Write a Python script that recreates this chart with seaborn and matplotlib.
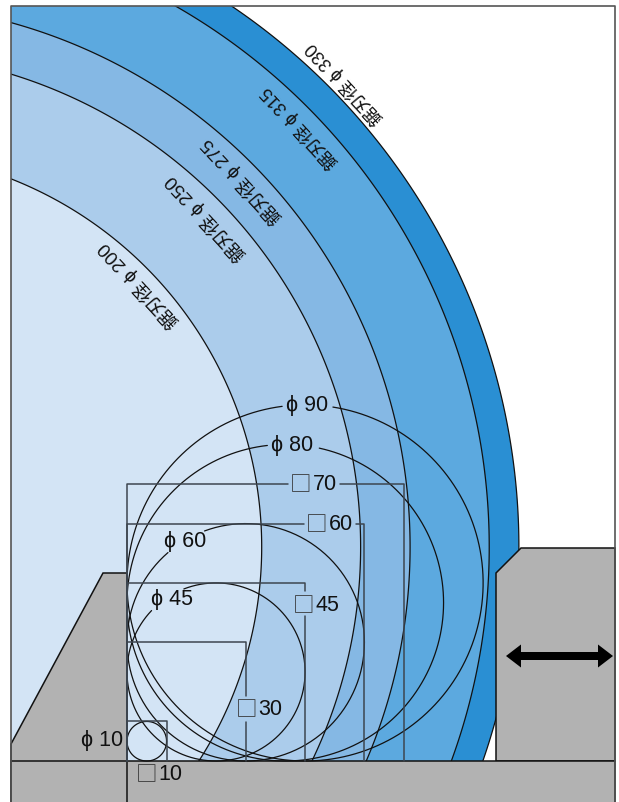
import matplotlib.pyplot as plt
import numpy as np
import seaborn as sns
from matplotlib.patches import Rectangle

# everything is in mm, origin at the inside corner of the fence and the table
PX_PER_MM = 3.957
WIDTH_PX, HEIGHT_PX = 619, 803
CORNER_PX = (127, 762)

blade_diameters = [330, 315, 275, 250, 200]
blade_colors = ["#2A8FD3", "#5CA9DF", "#85B8E4", "#ABCCEB", "#D3E4F5"]
blade_labels = ["鋸刃径 ϕ 330", "鋸刃径 ϕ 315", "鋸刃径 ϕ 275", "鋸刃径 ϕ 250", "鋸刃径 ϕ 200"]
blade_label_px = [(345, 83), (300, 127), (242, 181), (206, 218), (139, 285)]
blade_label_size = [13, 13, 13.5, 13.5, 13.5]
blade_center = (-65.96, 54.08)

round_diameters = [90, 80, 60, 45, 10]
round_labels = ["ϕ 90", "ϕ 80", "ϕ 60", "ϕ 45", "ϕ 10"]
round_label_px = [(307, 406), (292, 446), (185, 542), (172, 600), (102, 741)]
# angles left open for the label, degrees
round_gaps = [(81, 97.4), (77.6, 96.5), (110.3, 130.9), (111.2, 136.4), None]

square_sizes = [70, 60, 45, 30, 10]
square_numbers = ["70", "60", "45", "30", "10"]
square_label_px = [(314, 485), (330, 525), (317, 606), (260, 710), (160, 775)]
# horizontal gap on top edge, vertical gap on right edge (mm along that edge)
square_top_gaps = [(40.7, 53.8), (44.7, 57.9), None, None, None]
square_side_gaps = [None, None, (36.6, 43.0), (9.9, 16.4), None]

grey = "#B2B2B2"
edge = "#111111"
square_color = "#3D4650"


def mm(x_px, y_px):
    return (x_px - CORNER_PX[0]) / PX_PER_MM, (CORNER_PX[1] - y_px) / PX_PER_MM


left_fence = [mm(11, 745), mm(103, 574), mm(127, 574), mm(127, 810), mm(11, 810)]
right_fence = [mm(615, 549), mm(521, 549), mm(496, 574), mm(496, 762), mm(615, 762)]
table = [mm(11, 762), mm(615, 762), mm(615, 810), mm(11, 810)]

sns.set_theme(style="white")
plt.rcParams["font.family"] = ["Liberation Sans", "Noto Sans", "Noto Sans CJK JP", "DejaVu Sans"]

fig = plt.figure(figsize=(WIDTH_PX / 100, HEIGHT_PX / 100), dpi=100)
ax = fig.add_axes([0, 0, 1, 1])
ax.set_xlim(mm(0, 0)[0], mm(WIDTH_PX, 0)[0])
ax.set_ylim(mm(0, HEIGHT_PX)[1], mm(0, 0)[1])
ax.axis("off")

frame_x, frame_y = mm(11, 803)
frame_w = (615 - 11) / PX_PER_MM
frame_h = (803 - 7) / PX_PER_MM
clip = Rectangle((frame_x, frame_y), frame_w, frame_h, transform=ax.transData)

theta = np.radians(np.linspace(0, 360, 721))
for dia, color in zip(blade_diameters, blade_colors):
    xs = blade_center[0] + dia / 2 * np.cos(theta)
    ys = blade_center[1] + dia / 2 * np.sin(theta)
    for patch in ax.fill(xs, ys, facecolor=color, edgecolor=edge, linewidth=0.9):
        patch.set_clip_path(clip)

for outline in (left_fence, right_fence, table):
    ax.fill(*zip(*outline), facecolor=grey, edgecolor=edge, linewidth=1.1, zorder=3)

# fence face continues down through the table
ax.vlines(0, mm(0, 810)[1], 0, color=edge, linewidth=1.1, zorder=4)


def draw_line(xs, ys, color, width):
    sns.lineplot(x=xs, y=ys, ax=ax, sort=False, estimator=None, color=color, linewidth=width, zorder=5)


for dia, gap in zip(round_diameters, round_gaps):
    r = dia / 2
    start, end = (gap[1], gap[0] + 360) if gap else (0, 360)
    t = np.radians(np.linspace(start, end, 361))
    draw_line(r + r * np.cos(t), r + r * np.sin(t), edge, 0.9)

for size, top_gap, side_gap in zip(square_sizes, square_top_gaps, square_side_gaps):
    if top_gap:
        draw_line([0, 0, top_gap[0]], [0, size, size], square_color, 1.1)
        draw_line([top_gap[1], size, size], [size, size, 0], square_color, 1.1)
    elif side_gap:
        draw_line([0, 0, size, size], [0, size, size, side_gap[1]], square_color, 1.1)
        draw_line([size, size], [side_gap[0], 0], square_color, 1.1)
    else:
        draw_line([0, 0, size, size], [0, size, size, 0], square_color, 1.1)

# outer frame
ax.plot(*zip(*[mm(11, 810), mm(11, 7), mm(615, 7), mm(615, 810)]), color="#555555", linewidth=1.2, zorder=6)

for label, pos in zip(round_labels, round_label_px):
    x, y = mm(*pos)
    ax.text(x, y, label, fontsize=15.5, color="#111111", ha="center", va="center", zorder=7)

# square sign and number are separate so the sign can sit level with the digits
for number, pos in zip(square_numbers, square_label_px):
    x, y = mm(pos[0] - 13.5, pos[1])
    ax.text(x, y, "□", fontsize=15.5, color="#333333", ha="center", va="center", zorder=7,
            family=["Noto Sans CJK JP", "DejaVu Sans"])
    x, y = mm(pos[0] + 10.5, pos[1])
    ax.text(x, y, number, fontsize=15.5, color="#111111", ha="center", va="center", zorder=7)

for label, pos, size in zip(blade_labels, blade_label_px, blade_label_size):
    x, y = mm(*pos)
    ax.text(x, y, label, fontsize=size, color="#111111", rotation=133, ha="center", va="center",
            rotation_mode="anchor", zorder=7)

# double arrow on the movable fence, two heads back to back
arrow_mid = mm(559.5, 657)
arrow_half = 53.5 / PX_PER_MM
for sign in (-1, 1):
    ax.arrow(arrow_mid[0] - sign, arrow_mid[1], sign * (arrow_half + 1), 0, width=8 / PX_PER_MM,
             head_width=23 / PX_PER_MM, head_length=15 / PX_PER_MM, length_includes_head=True,
             color="black", linewidth=0, zorder=8)

fig.savefig("out.png", dpi=100)
